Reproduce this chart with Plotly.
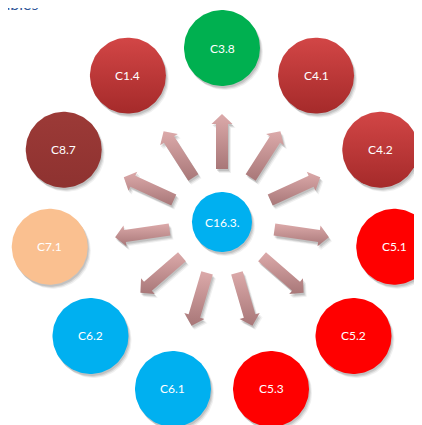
import numpy as np
import plotly.graph_objects as go

# outer circles, clockwise from the top
labels = ["C3.8", "C4.1", "C4.2", "C5.1", "C5.2", "C5.3",
          "C6.1", "C6.2", "C7.1", "C8.7", "C1.4"]
groups = ["green", "brick", "brick", "red", "red", "red",
          "blue", "blue", "peach", "maroon", "brick"]
center_label = "C16.3."
title_text = "Variables"

W, H = 422, 425
PAD = 8  # page body margin
CX, CY = 222, 222
RING = 174
R_OUT = 38
R_IN = 30

fills = {
    "green": ("#00b050", "#00b050"),
    "brick": ("#d24646", "#a52a2a"),
    "red": ("#ff0000", "#ff0000"),
    "blue": ("#00b0f0", "#00b0f0"),
    "peach": ("#fac090", "#fac090"),
    "maroon": ("#9c3a37", "#8e3230"),
}


def circle_xy(cx, cy, r, n=120):
    t = np.linspace(0, 2 * np.pi, n)
    return cx + r * np.cos(t), cy + r * np.sin(t)


def blob(fig, xs, ys, top, bottom, y0, y1):
    fig.add_trace(go.Scatter(
        x=xs, y=ys, mode="lines", fill="toself",
        line={"width": 0}, fillcolor=top,
        fillgradient={"type": "vertical", "start": y0, "stop": y1,
                      "colorscale": [[0, top], [1, bottom]]},
        hoverinfo="skip", showlegend=False,
    ))


def shadow(fig, xs, ys):
    for dx, dy, a in [(3, 4, 0.08), (2, 3, 0.12), (1, 2, 0.15)]:
        fig.add_trace(go.Scatter(
            x=np.asarray(xs) + dx, y=np.asarray(ys) + dy, mode="lines",
            fill="toself", line={"width": 0},
            fillcolor=f"rgba(60,60,60,{a})",
            hoverinfo="skip", showlegend=False,
        ))


def arrow_xy(ang):
    u = np.array([np.cos(ang), -np.sin(ang)])
    v = np.array([-u[1], u[0]])
    r0, r1, r2 = 53, 98, 108
    sw, hw = 6, 10.5
    pts = [(r0, -sw), (r1, -sw), (r1, -hw), (r2, 0), (r1, hw), (r1, sw), (r0, sw), (r0, -sw)]
    xs = [CX + a * u[0] + b * v[0] for a, b in pts]
    ys = [CY + a * u[1] + b * v[1] for a, b in pts]
    return xs, ys


fig = go.Figure()
n = len(labels)
angles = [np.pi / 2 - i * 2 * np.pi / n for i in range(n)]

# arrows
for ang in angles:
    xs, ys = arrow_xy(ang)
    shadow(fig, xs, ys)
    blob(fig, xs, ys, "#dcaaaa", "#a87778", min(ys), max(ys))

annotations = []
for lab, grp, ang in zip(labels, groups, angles):
    cx = CX + RING * np.cos(ang)
    cy = CY - RING * np.sin(ang)
    xs, ys = circle_xy(cx, cy, R_OUT)
    shadow(fig, xs, ys)
    top, bottom = fills[grp]
    blob(fig, xs, ys, top, bottom, cy - R_OUT, cy + R_OUT)
    annotations.append(dict(x=cx, y=cy, text=lab, showarrow=False,
                            font={"color": "white", "size": 12, "family": "Lato"}))

xs, ys = circle_xy(CX, CY, R_IN)
shadow(fig, xs, ys)
blob(fig, xs, ys, "#00b0f0", "#00b0f0", CY - R_IN, CY + R_IN)
annotations.append(dict(x=CX, y=CY, text=center_label, showarrow=False,
                        font={"color": "white", "size": 12, "family": "Lato"}))

# heading, mostly cropped off the top edge
annotations.append(dict(x=40, y=15, text=title_text, showarrow=False,
                        xanchor="right", yanchor="bottom",
                        font={"color": "#2e5597", "size": 16, "family": "Lato"}))

fig.update_layout(
    width=W - PAD, height=H - PAD,
    margin={"l": 0, "r": 0, "t": 0, "b": 0},
    paper_bgcolor="white", plot_bgcolor="white",
    xaxis={"range": [PAD, W], "visible": False, "fixedrange": True},
    yaxis={"range": [H, PAD], "visible": False, "fixedrange": True},
    annotations=annotations,
    showlegend=False,
)

fig.write_html("out.html")
